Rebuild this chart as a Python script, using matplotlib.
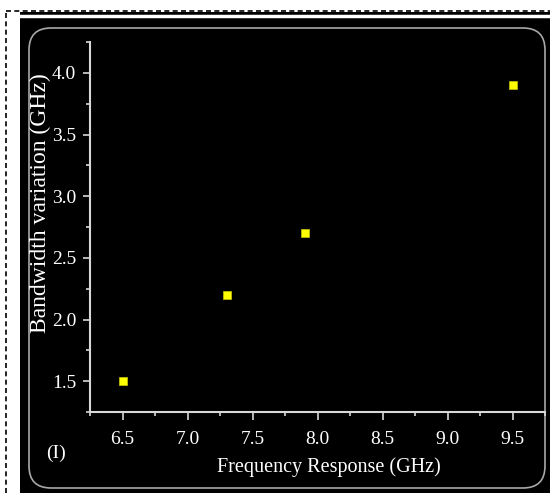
import matplotlib

matplotlib.use("Agg")

import matplotlib.pyplot as plt
from matplotlib.patches import Rectangle, FancyBboxPatch
from matplotlib.lines import Line2D
from matplotlib.ticker import MultipleLocator

freq = [6.5, 7.3, 7.9, 9.5]
bandwidth = [1.5, 2.2, 2.7, 3.9]
xticks = [6.5, 7.0, 7.5, 8.0, 8.5, 9.0, 9.5]
yticks = [1.5, 2.0, 2.5, 3.0, 3.5, 4.0]

W, H = 550, 493


def fx(px):
    return px / W


def fy(py):
    return 1 - py / H


plt.rcParams["font.family"] = ["Liberation Serif", "DejaVu Serif"]

fig = plt.figure(figsize=(5.5, 4.93), dpi=100, facecolor="white")

# black panel behind the chart
fig.patches.append(Rectangle((fx(20), 0), fx(530), fy(12), transform=fig.transFigure,
                             facecolor="black", edgecolor="none", zorder=-2))
fig.lines.append(Line2D([fx(20), 1], [fy(16), fy(16)], transform=fig.transFigure,
                        color="white", lw=2.5, zorder=-1))
# dashed frame on left / top
fig.lines.append(Line2D([fx(6), fx(6)], [0, fy(11)], transform=fig.transFigure,
                        color="black", lw=1.2, ls=(0, (3, 2)), zorder=-1))
fig.lines.append(Line2D([fx(6), 1], [fy(11), fy(11)], transform=fig.transFigure,
                        color="black", lw=1.2, ls=(0, (3, 2)), zorder=-1))
# rounded gray border
fig.patches.append(FancyBboxPatch((fx(29), fy(488)), fx(516), fy(28) - fy(488),
                                  boxstyle="round,pad=0,rounding_size=0.04",
                                  transform=fig.transFigure, facecolor="none",
                                  edgecolor="#a8a8a8", lw=1.2, zorder=-1,
                                  mutation_aspect=550 / 493))

ax = fig.add_axes([fx(90), fy(412), fx(545 - 90), fy(42) - fy(412)])
ax.set_zorder(5)
ax.set_facecolor("none")
ax.plot(freq, bandwidth, "s", color="#ffff00", markersize=6, markeredgecolor="#c8c800",
        markeredgewidth=0.5, clip_on=False)

ax.set_xlim(6.25, 9.75)
ax.set_ylim(1.25, 4.25)
ax.xaxis.set_minor_locator(MultipleLocator(0.25))
ax.yaxis.set_minor_locator(MultipleLocator(0.25))

for s in ["top", "right"]:
    ax.spines[s].set_visible(False)
for s in ["left", "bottom"]:
    ax.spines[s].set_color("#d8d8d8")
    ax.spines[s].set_linewidth(1.5)

ax.tick_params(which="major", direction="out", length=5, width=1.2, colors="#d8d8d8",
               labelcolor="white", labelsize=14)
ax.tick_params(axis="x", which="major", length=6, pad=8)
ax.tick_params(axis="y", which="major", pad=5)
ax.tick_params(which="minor", direction="out", length=3, width=1.2, colors="#d8d8d8")
ax.set_xticks(xticks)
ax.set_xticklabels([f"{v:.1f}" for v in xticks])
ax.set_yticks(yticks)
ax.set_yticklabels([f"{v:.1f}" for v in yticks])

ax.set_xlabel("Frequency Response (GHz)", color="white", fontsize=14.5)
ax.set_ylabel("Bandwidth variation (GHz)", color="white", fontsize=17)
ax.xaxis.label.set_verticalalignment("center")
ax.yaxis.label.set_verticalalignment("center")
ax.xaxis.set_label_coords(0.525, -0.149)
ax.yaxis.set_label_coords(-0.108, 0.565)

fig.text(fx(56), fy(453), "(I)", color="white", fontsize=14, ha="center", va="center")

fig.savefig("out.png", dpi=100, facecolor="white")
